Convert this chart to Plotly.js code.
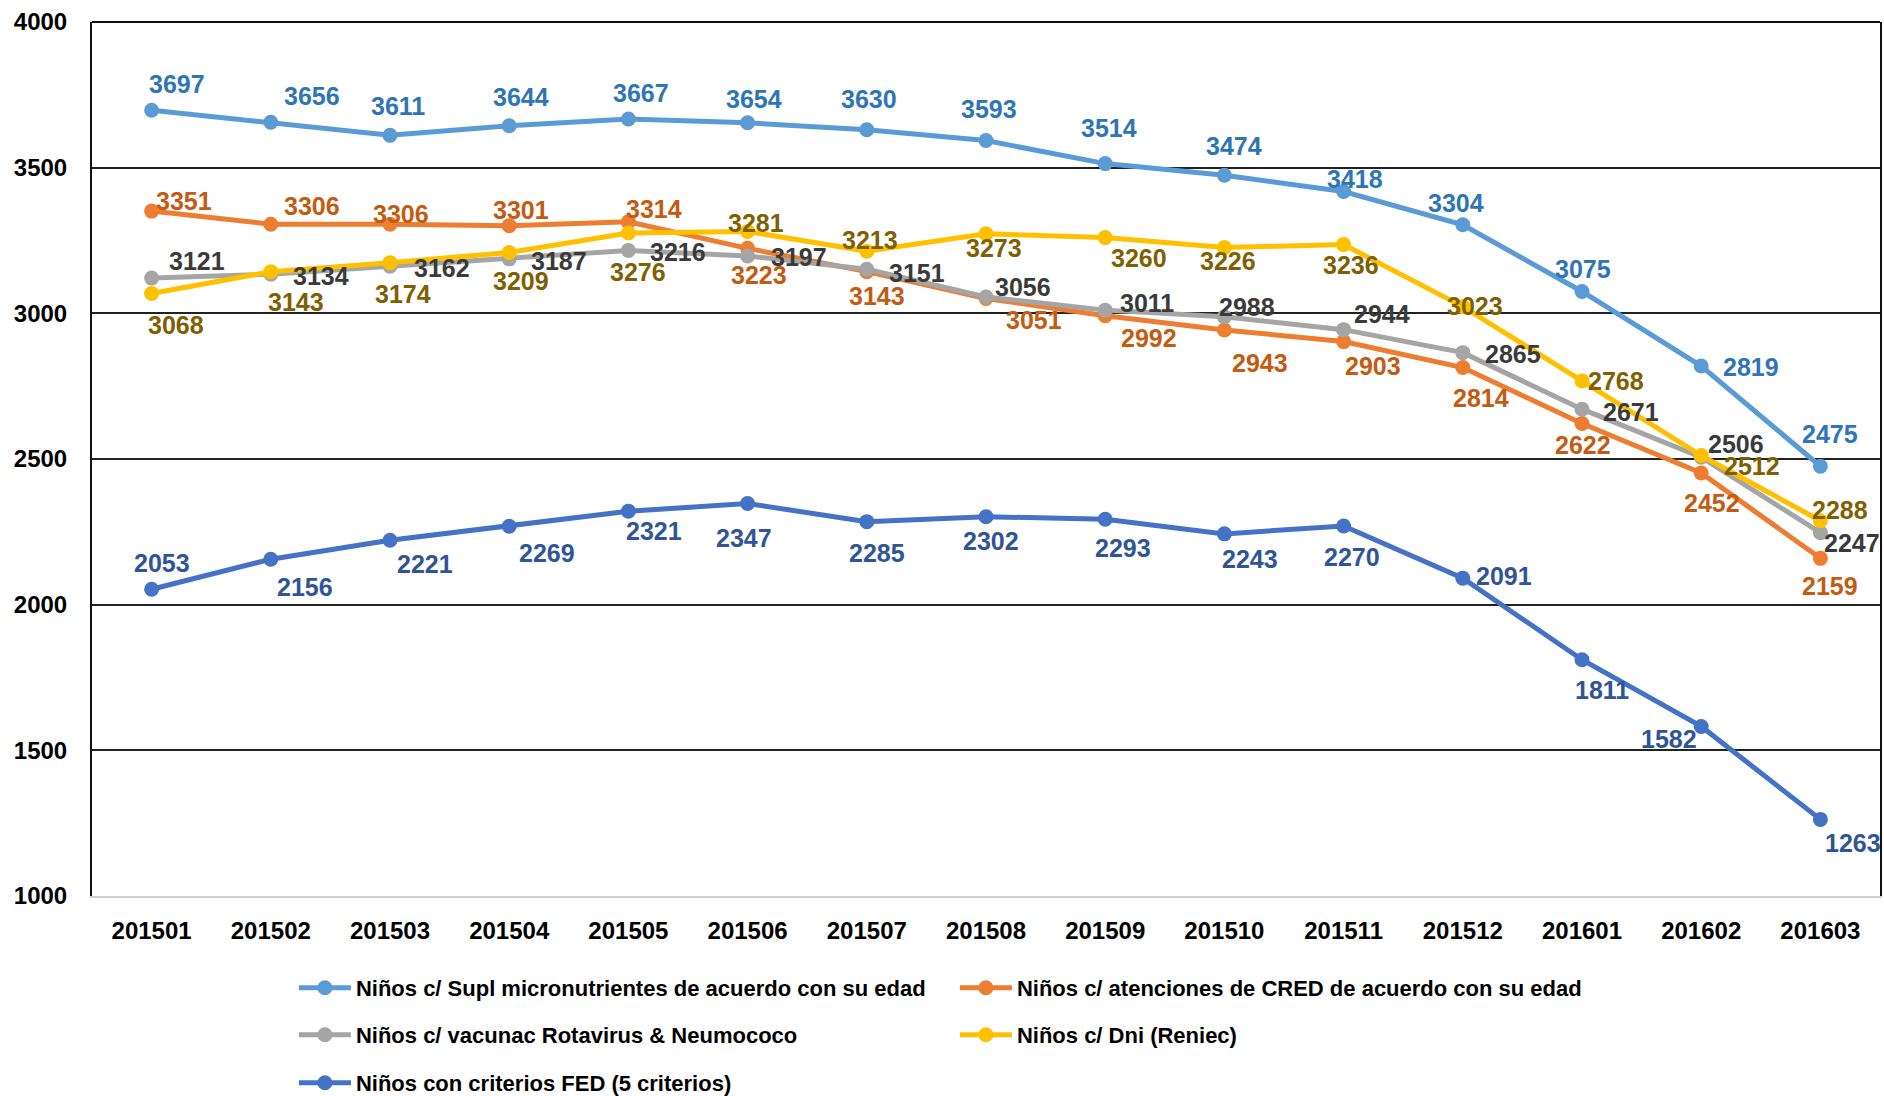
<!DOCTYPE html>
<html>
<head>
<meta charset="utf-8">
<script src="https://cdn.plot.ly/plotly-3.0.1.min.js"></script>
<style>html,body{margin:0;padding:0;background:#fff;}#chart{width:1884px;height:1096px;}</style>
</head>
<body>
<div id="chart"></div>
<script>
// ---- data ----
const periods = ["201501","201502","201503","201504","201505","201506","201507","201508","201509","201510","201511","201512","201601","201602","201603"];
const seriesNames = [
  "Niños c/ Supl micronutrientes de acuerdo con su edad",
  "Niños c/ atenciones de CRED de acuerdo con su edad",
  "Niños c/ vacunac Rotavirus & Neumococo",
  "Niños c/ Dni (Reniec)",
  "Niños con criterios FED (5 criterios)"
];
const supl    = [3697,3656,3611,3644,3667,3654,3630,3593,3514,3474,3418,3304,3075,2819,2475];
const cred    = [3351,3306,3306,3301,3314,3223,3143,3051,2992,2943,2903,2814,2622,2452,2159];
const vacunac = [3121,3134,3162,3187,3216,3197,3151,3056,3011,2988,2944,2865,2671,2506,2247];
const dni     = [3068,3143,3174,3209,3276,3281,3213,3273,3260,3226,3236,3023,2768,2512,2288];
const fed     = [2053,2156,2221,2269,2321,2347,2285,2302,2293,2243,2270,2091,1811,1582,1263];

// ---- label offsets in pixels from each point (style only): [dx, dy], dy positive = down ----
const offSupl = [[25,-26],[41,-26],[8,-29],[12,-29],[13,-26],[6,-24],[2,-31],[3,-32],[4,-36],[10,-29],[11,-13],[-7,-22],[1,-22],[50,1],[10,-32]];
const offCred = [[32,-10],[41,-18],[11,-10],[12,-16],[26,-13],[11,27],[10,24],[48,22],[44,22],[36,33],[29,24],[18,30],[1,22],[11,30],[10,28]];
const offVac  = [[45,-17],[50,2],[52,2],[50,2],[50,2],[51,1],[50,4],[37,-10],[42,-7],[23,-10],[38,-16],[50,1],[49,3],[35,-13],[32,10]];
const offDni  = [[24,31],[25,30],[13,31],[12,29],[10,39],[8,-8],[3,-11],[8,14],[34,20],[4,14],[7,20],[12,-1],[34,0],[51,10],[20,-11]];
const offFed  = [[10,-26],[34,28],[35,24],[38,27],[26,20],[-4,34],[10,31],[5,24],[18,29],[26,25],[8,31],[41,-2],[20,30],[-32,13],[33,24]];

const FONT = "Liberation Sans, Arial, sans-serif";
const lineColors = ['#5B9BD5','#ED7D31','#A5A5A5','#FFC000','#4472C4'];
const labelColors = ['#2E75B6','#C55A11','#3A3A3A','#7F6000','#2F5597'];
const allSeries = [supl, cred, vacunac, dni, fed];
const allOffsets = [offSupl, offCred, offVac, offDni, offFed];
const legendOf = ['legend','legend','legend2','legend2','legend3'];

const traces = allSeries.map((vals, k) => ({
  type:'scatter', mode:'lines+markers', name:seriesNames[k], x:periods, y:vals,
  line:{color:lineColors[k], width:5}, marker:{color:lineColors[k], size:15},
  cliponaxis:false, legend:legendOf[k], hoverinfo:'x+y'
}));

// data labels: placed on each category index (category axis serial number) and value
const annotations = [];
allSeries.forEach((vals, k) => {
  vals.forEach((v, i) => {
    annotations.push({
      x: i, y: v, xref:'x', yref:'y', text: String(v), showarrow:false,
      xanchor:'center', yanchor:'middle',
      xshift: allOffsets[k][i][0], yshift: -allOffsets[k][i][1],
      font:{family:FONT, size:25, color:labelColors[k], weight:700}
    });
  });
});

const legBase = {orientation:'h', xanchor:'left', yanchor:'middle', xref:'container', yref:'container', x:0.156,
  entrywidth:594, entrywidthmode:'pixels', itemwidth:52, bgcolor:'rgba(0,0,0,0)',
  font:{family:FONT, size:22, color:'#000', weight:700}, traceorder:'normal'};

const layout = {
  width:1884, height:1096,
  margin:{l:92, r:4, t:22, b:200},
  paper_bgcolor:'#fff', plot_bgcolor:'#fff',
  font:{family:FONT, color:'#000'},
  showlegend:true,
  xaxis:{type:'category', range:[-0.5,14.5], showgrid:false, zeroline:false,
    showline:true, linecolor:'#D0D0D0', linewidth:2, ticks:'',
    tickfont:{family:FONT, size:24, color:'#000', weight:700}, ticklabelstandoff:12},
  yaxis:{range:[1000,4000], dtick:500, tick0:1000, showgrid:true, gridcolor:'#222', gridwidth:2,
    zeroline:false, showline:true, linecolor:'#111', linewidth:2, mirror:true, ticks:'',
    tickfont:{family:FONT, size:24, color:'#000', weight:700}, ticklabelstandoff:18},
  legend:  Object.assign({}, legBase, {y:1-988/1096}),
  legend2: Object.assign({}, legBase, {y:1-1035/1096}),
  legend3: Object.assign({}, legBase, {y:1-1083/1096}),
  annotations: annotations,
  shapes:[{type:'line', xref:'paper', yref:'paper', x0:0, x1:1, y0:1, y1:1, line:{color:'#111', width:2}}]
};
Plotly.newPlot('chart', traces, layout, {displayModeBar:false, responsive:false});
</script>
</body>
</html>
